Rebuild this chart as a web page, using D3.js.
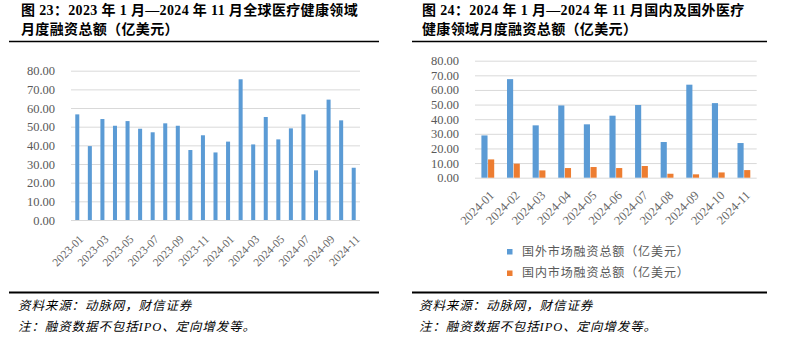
<!DOCTYPE html>
<html>
    <head>
        <meta charset="utf-8">
        <script src="https://cdn.jsdelivr.net/npm/d3@7"></script>
        <style>
            body { margin: 0; background: white; }
            text { font-family: "Liberation Serif", "Noto Sans CJK SC", serif; }
        </style>
        <script>
            // left chart: global monthly totals
            var monthsAll = ["2023-01","2023-02","2023-03","2023-04","2023-05","2023-06","2023-07","2023-08",
                             "2023-09","2023-10","2023-11","2023-12","2024-01","2024-02","2024-03","2024-04",
                             "2024-05","2024-06","2024-07","2024-08","2024-09","2024-10","2024-11"];
            var globalTotal = [56.6, 39.6, 54.1, 50.5, 53.0, 48.9, 47.0, 51.8, 50.5, 37.5, 45.4, 36.2,
                               42.0, 75.4, 40.5, 55.2, 43.2, 49.1, 56.6, 26.6, 64.5, 53.4, 28.0];

            // right chart: foreign vs domestic 2024
            var months2024 = ["2024-01","2024-02","2024-03","2024-04","2024-05","2024-06",
                              "2024-07","2024-08","2024-09","2024-10","2024-11"];
            var foreignVals = [28.9, 67.4, 35.8, 49.4, 36.5, 42.4, 49.7, 24.4, 63.6, 51.0, 23.7];
            var domesticVals = [12.5, 9.6, 5.0, 6.6, 7.3, 6.6, 8.0, 2.7, 2.3, 3.6, 5.2];
            var seriesNames = ["国外市场融资总额（亿美元）", "国内市场融资总额（亿美元）"];
            var seriesColors = ["#5B9BD5", "#ED7D31"];

            var yTicks = [0, 10, 20, 30, 40, 50, 60, 70, 80];

            function makeSVG() {
                var svg = d3.select("body").append("svg")
                            .attr("width", 790)
                            .attr("height", 353);

                svg.append("rect").attr("width", 790).attr("height", 353).attr("fill", "white");

                // ---------- titles, rules and notes ----------
                var panels = [
                    { x0: 9, x1: 379, tx: 21,
                      title: ["图 23：2023 年 1 月—2024 年 11 月全球医疗健康领域", "月度融资总额（亿美元）"] },
                    { x0: 412, x1: 767, tx: 422,
                      title: ["图 24：2024 年 1 月—2024 年 11 月国内及国外医疗", "健康领域月度融资总额（亿美元）"] }
                ];

                panels.forEach(function (p) {
                    svg.append("g")
                       .selectAll("text").data(p.title)
                       .enter()
                       .append("text")
                       .attr("x", p.tx)
                       .attr("y", (d, i) => 15 + i * 19)
                       .attr("font-size", "14px")
                       .attr("font-weight", "bold")
                       .attr("letter-spacing", "0.35px")
                       .attr("fill", "#000")
                       .text(d => d);

                    svg.append("line")
                       .attr("x1", p.x0).attr("x2", p.x1)
                       .attr("y1", 41.5).attr("y2", 41.5)
                       .attr("stroke", "#000").attr("stroke-width", 1.5);

                    svg.append("line")
                       .attr("x1", p.x0).attr("x2", p.x1)
                       .attr("y1", 292.5).attr("y2", 292.5)
                       .attr("stroke", "#000").attr("stroke-width", 2);

                    svg.append("g")
                       .selectAll("text").data(["资料来源：动脉网，财信证券", "注：融资数据不包括IPO、定向增发等。"])
                       .enter()
                       .append("text")
                       .attr("x", p.tx - 3)
                       .attr("y", (d, i) => 310 + i * 21)
                       .attr("font-size", "12.5px")
                       .attr("letter-spacing", "0.9px")
                       .attr("font-style", "italic")
                       .attr("fill", "#000")
                       .text(d => d);
                });

                // ---------- left chart ----------
                var xL = d3.scaleBand().domain(monthsAll).range([71, 360]).paddingInner(0.68).paddingOuter(0.34);
                var yL = d3.scaleLinear().domain([0, 80]).range([220, 70.7]);

                var gl = svg.append("g");

                gl.append("g")
                  .attr("transform", "translate(71,0)")
                  .call(d3.axisLeft(yL).tickValues(yTicks).tickSize(-289).tickFormat(d3.format(".2f")))
                  .call(g => g.select(".domain").remove())
                  .call(g => g.selectAll("line").attr("stroke", "#D9D9D9"))
                  .call(g => g.selectAll("text").attr("x", -16).attr("fill", "#595959")
                              .attr("font-size", "12.5px").attr("font-family", "Liberation Serif"));

                gl.append("g")
                  .selectAll("rect").data(globalTotal)
                  .enter()
                  .append("rect")
                  .attr("x", (d, i) => xL(monthsAll[i]))
                  .attr("y", d => yL(d))
                  .attr("width", xL.bandwidth())
                  .attr("height", d => yL(0) - yL(d))
                  .attr("fill", seriesColors[0]);

                gl.append("g")
                  .selectAll("text").data(monthsAll.filter((d, i) => i % 2 == 0))
                  .enter()
                  .append("text")
                  .attr("transform", d => "translate(" + (xL(d) + xL.bandwidth() / 2 + 4) + ",237) rotate(-45)")
                  .attr("text-anchor", "end")
                  .attr("dy", "0.35em")
                  .attr("font-size", "11.5px")
                  .attr("fill", "#666")
                  .text(d => d);

                // ---------- right chart ----------
                var xR = d3.scaleBand().domain(months2024).range([475, 756.7]).paddingInner(0.5).paddingOuter(0.25);
                var xSub = d3.scaleBand().domain([0, 1]).range([0, xR.bandwidth()]).paddingInner(0.08);
                var yR = d3.scaleLinear().domain([0, 80]).range([177.7, 60.7]);

                var gr = svg.append("g");

                gr.append("g")
                  .attr("transform", "translate(475,0)")
                  .call(d3.axisLeft(yR).tickValues(yTicks).tickSize(-281.7).tickFormat(d3.format(".2f")))
                  .call(g => g.select(".domain").remove())
                  .call(g => g.selectAll("line").attr("stroke", "#D9D9D9"))
                  .call(g => g.selectAll("text").attr("x", -16).attr("fill", "#595959")
                              .attr("font-size", "12.5px").attr("font-family", "Liberation Serif"));

                var seriesData = [foreignVals, domesticVals];

                seriesData.forEach(function (vals, s) {
                    gr.append("g")
                      .selectAll("rect").data(vals)
                      .enter()
                      .append("rect")
                      .attr("x", (d, i) => xR(months2024[i]) + xSub(s))
                      .attr("y", d => yR(d))
                      .attr("width", xSub.bandwidth())
                      .attr("height", d => yR(0) - yR(d))
                      .attr("fill", seriesColors[s]);
                });

                gr.append("g")
                  .selectAll("text").data(months2024)
                  .enter()
                  .append("text")
                  .attr("transform", d => "translate(" + (xR(d) + xR.bandwidth() / 2 + 4) + ",193) rotate(-45)")
                  .attr("text-anchor", "end")
                  .attr("dy", "0.35em")
                  .attr("font-size", "12.5px")
                  .attr("fill", "#666")
                  .text(d => d);

                // legend
                var lg = gr.append("g")
                           .selectAll("g").data(seriesNames)
                           .enter()
                           .append("g")
                           .attr("transform", (d, i) => "translate(507," + (251.5 + i * 21.5) + ")");

                lg.append("rect")
                  .attr("x", 0).attr("y", -2.5)
                  .attr("width", 5.5).attr("height", 5.5)
                  .attr("fill", (d, i) => seriesColors[i]);

                lg.append("text")
                  .attr("x", 15)
                  .attr("dy", "0.35em")
                  .attr("font-size", "12px")
                  .attr("letter-spacing", "0.9px")
                  .attr("fill", "#595959")
                  .text(d => d);
            }
        </script>
    </head>
    <body onload="makeSVG()">
    </body>
</html>
